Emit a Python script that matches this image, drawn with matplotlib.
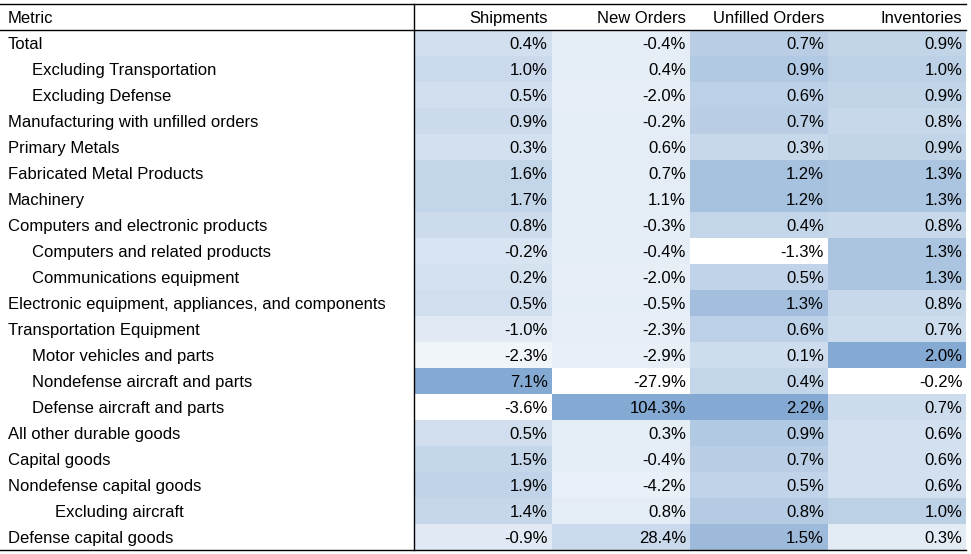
import matplotlib
matplotlib.use("Agg")
import matplotlib.pyplot as plt
import numpy as np
from matplotlib.colors import LinearSegmentedColormap, Normalize

metrics = ["Total", "Excluding Transportation", "Excluding Defense",
           "Manufacturing with unfilled orders", "Primary Metals",
           "Fabricated Metal Products", "Machinery",
           "Computers and electronic products", "Computers and related products",
           "Communications equipment",
           "Electronic equipment, appliances, and components",
           "Transportation Equipment", "Motor vehicles and parts",
           "Nondefense aircraft and parts", "Defense aircraft and parts",
           "All other durable goods", "Capital goods", "Nondefense capital goods",
           "Excluding aircraft", "Defense capital goods"]
indent = [0, 1, 1, 0, 0, 0, 0, 0, 1, 1, 0, 0, 1, 1, 1, 0, 0, 0, 2, 0]
columns = ["Shipments", "New Orders", "Unfilled Orders", "Inventories"]
shipments = [0.4, 1.0, 0.5, 0.9, 0.3, 1.6, 1.7, 0.8, -0.2, 0.2, 0.5, -1.0, -2.3, 7.1, -3.6, 0.5, 1.5, 1.9, 1.4, -0.9]
new_orders = [-0.4, 0.4, -2.0, -0.2, 0.6, 0.7, 1.1, -0.3, -0.4, -2.0, -0.5, -2.3, -2.9, -27.9, 104.3, 0.3, -0.4, -4.2, 0.8, 28.4]
unfilled = [0.7, 0.9, 0.6, 0.7, 0.3, 1.2, 1.2, 0.4, -1.3, 0.5, 1.3, 0.6, 0.1, 0.4, 2.2, 0.9, 0.7, 0.5, 0.8, 1.5]
inventories = [0.9, 1.0, 0.9, 0.8, 0.9, 1.3, 1.3, 0.8, 1.3, 1.3, 0.8, 0.7, 2.0, -0.2, 0.7, 0.6, 0.6, 0.6, 1.0, 0.3]

data = np.array([shipments, new_orders, unfilled, inventories]).T

plt.rcParams["font.family"] = ["Liberation Sans", "DejaVu Sans"]

W, H = 971, 554
fig = plt.figure(figsize=(W / 100, H / 100), dpi=100)
ax = fig.add_axes([0, 0, 1, 1])
ax.set_xlim(0, W)
ax.set_ylim(H, 0)
ax.axis("off")

fs = 12

cmap = LinearSegmentedColormap.from_list("bl", ["#ffffff", "#84a9d2"])

left = 0
label_w = 413.5
col_w = 138.2
top = 4
row_h = 26
base_off = 19
nrows = len(metrics)
x_edges = label_w + col_w * np.arange(len(columns) + 1)
y_edges = top + row_h * (1 + np.arange(nrows + 1))
right = x_edges[-1]

for j in range(len(columns)):
    col = data[:, j]
    norm = Normalize(col.min(), col.max())
    ax.pcolormesh(x_edges[j:j + 2], y_edges, col[:, None], cmap=cmap, norm=norm,
                  shading="flat", edgecolor="none")

# header
ax.text(left + 8, top + base_off, "Metric", ha="left", va="baseline", fontsize=fs)
for j, c in enumerate(columns):
    ax.text(x_edges[j + 1] - 4, top + base_off, c, ha="right", va="baseline", fontsize=fs)

for i, m in enumerate(metrics):
    yb = y_edges[i] + base_off
    ax.text(left + 8 + 23.5 * indent[i], yb, m, ha="left", va="baseline", fontsize=fs)
    for j in range(len(columns)):
        ax.text(x_edges[j + 1] - 4, yb, f"{data[i, j]:.1f}%", ha="right", va="baseline", fontsize=fs)

lw = 1.0
ax.plot([left, right], [top, top], color="black", lw=lw)
ax.plot([left, right], [y_edges[0], y_edges[0]], color="black", lw=lw)
ax.plot([left, right], [y_edges[-1], y_edges[-1]], color="black", lw=lw)
ax.plot([label_w, label_w], [top, y_edges[-1]], color="black", lw=lw)

fig.savefig("out.png", dpi=100)
